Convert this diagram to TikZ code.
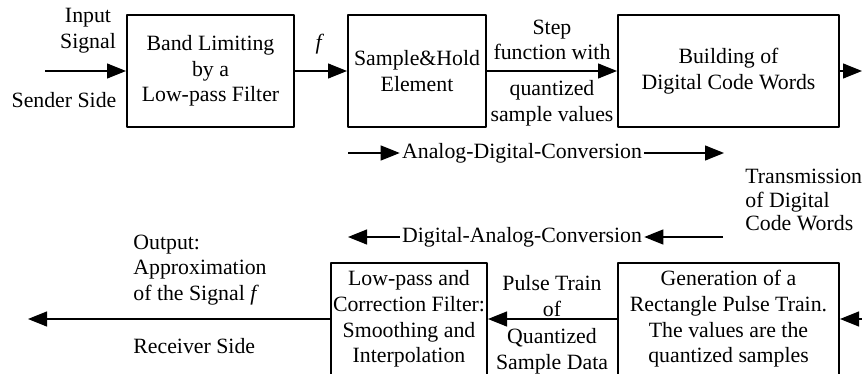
\documentclass[tikz,border=0pt]{standalone}
\usepackage{fontspec}
\setmainfont{Liberation Serif}
\usetikzlibrary{arrows.meta}
\tikzset{
	blk/.style={draw, line width=1pt, minimum height=56pt, inner sep=0pt, align=center},
	lbl/.style={align=center, inner sep=0pt},
	sig/.style={-{Triangle[length=9.5pt,width=7.5pt]}, line width=.6pt},
}
\begin{document}
\begin{tikzpicture}[x=.5pt, y=-.5pt, font=\fontsize{10.9}{12.8}\selectfont, line join=round]
	\def\ytop{71} \def\ybot{319}
	\clip (0,0) rectangle (862,374);
	% sender side
	\node[blk, minimum width=83.5pt] (band) at (210.5,\ytop) {Band Limiting\\by a\\Low-pass Filter};
	\node[blk, minimum width=69pt] (hold) at (417,\ytop) {Sample\&Hold\\Element};
	\node[blk, minimum width=110.5pt] (code) at (728.5,\ytop) {Building of\\Digital Code Words};
	\coordinate (sigin) at (45,\ytop);
	\coordinate (sigout) at (862,\ytop);
	\draw[sig] (sigin) -- (band.west);
	\draw[sig] (band.east) -- (hold.west);
	\draw[sig] (hold.east) -- (code.west);
	\draw[sig] (code.east) -- (sigout);
	\node[lbl] (input) at (88,31) {Input\\Signal};
	\node[lbl] (sender) at (64,100) {Sender Side};
	\node[lbl] (f) at (320,44) {\textit{f}};
	\node[lbl] (step) at (552,40) {Step\\function with};
	\node[lbl] (quant) at (552,103) {quantized\\sample values};
	% conversion arrows
	\node[inner sep=1pt] (adc) at (522,153) {Analog-Digital-Conversion};
	\coordinate (adca) at (348,153); \coordinate (adcb) at (724,153);
	\draw[sig] (adca) -- (adc.west);
	\draw[sig] (adc.east) -- (adcb);
	\node[anchor=west, align=left, inner sep=0pt, font=\fontsize{10.9}{11.8}\selectfont] (trans) at (745,200) {Transmission\\of Digital\\Code Words};
	\node[inner sep=1pt] (dac) at (522,237) {Digital-Analog-Conversion};
	\coordinate (daca) at (348,237); \coordinate (dacb) at (723,237);
	\draw[sig] (dacb) -- (dac.east);
	\draw[sig] (dac.west) -- (daca);
	% receiver side
	\node[blk, minimum width=78pt] (lowp) at (409,\ybot) {Low-pass and\\Correction Filter:\\Smoothing and\\Interpolation};
	\node[blk, minimum width=110.5pt] (pulse) at (728.5,\ybot) {Generation of a\\Rectangle Pulse Train.\\The values are the\\quantized samples};
	\coordinate (rxin) at (875,\ybot);
	\coordinate (rxout) at (28,\ybot);
	\draw[sig] (rxin) -- (pulse.east);
	\draw[sig] (pulse.west) -- (lowp.east);
	\draw[sig] (lowp.west) -- (rxout);
	\node[lbl] (train) at (552,296) {Pulse Train\\of};
	\node[lbl] (qdata) at (552,351) {Quantized\\Sample Data};
	\node[anchor=west, align=left, inner sep=0pt] (approx) at (133,270) {Output:\\Approximation\\of the Signal \textit{f}};
	\node[anchor=west, inner sep=0pt] (recv) at (133,346) {Receiver Side};
\end{tikzpicture}
\end{document}
